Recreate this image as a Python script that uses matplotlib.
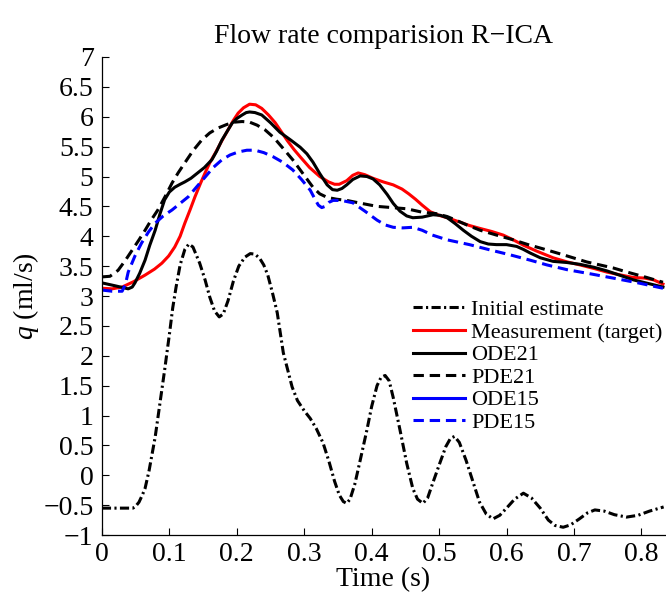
import matplotlib
matplotlib.use("Agg")
import matplotlib.pyplot as plt

# Initial estimate
t_init = [0, 0.046, 0.050, 0.055, 0.060, 0.064, 0.070, 0.079, 0.086, 0.093, 0.100, 0.105,
          0.110, 0.116, 0.123, 0.129, 0.135, 0.145, 0.153, 0.160, 0.167, 0.174, 0.180,
          0.187, 0.195, 0.203, 0.212, 0.220, 0.227, 0.234, 0.240, 0.246, 0.253, 0.260,
          0.269, 0.282, 0.290, 0.300, 0.309, 0.318, 0.328, 0.337, 0.345, 0.352, 0.358,
          0.363, 0.368, 0.375, 0.383, 0.393, 0.400, 0.408, 0.414, 0.420, 0.426, 0.432,
          0.442, 0.452, 0.461, 0.468, 0.476, 0.483, 0.490, 0.501, 0.510, 0.517, 0.523,
          0.530, 0.540, 0.550, 0.560, 0.570, 0.580, 0.590, 0.600, 0.612, 0.625, 0.637,
          0.650, 0.662, 0.672, 0.684, 0.695, 0.708, 0.720, 0.731, 0.745, 0.760, 0.778,
          0.795, 0.812, 0.833]
q_init = [-0.55, -0.55, -0.52, -0.45, -0.33, -0.22, 0.08, 0.64, 1.20, 1.76, 2.35, 2.80,
          3.15, 3.52, 3.78, 3.87, 3.82, 3.55, 3.27, 2.98, 2.75, 2.65, 2.70,
          2.92, 3.25, 3.50, 3.65, 3.71, 3.70, 3.63, 3.52, 3.35, 3.05, 2.72,
          2.05, 1.48, 1.25, 1.08, 0.95, 0.78, 0.54, 0.22, -0.10, -0.33, -0.44,
          -0.47, -0.40, -0.15, 0.25, 0.76, 1.15, 1.50, 1.64, 1.67, 1.58, 1.30,
          0.76, 0.20, -0.22, -0.40, -0.47, -0.38, -0.15, 0.20, 0.48, 0.62, 0.65,
          0.55, 0.25, -0.10, -0.45, -0.65, -0.73, -0.67, -0.55, -0.40, -0.30, -0.38,
          -0.55, -0.75, -0.84, -0.87, -0.83, -0.73, -0.63, -0.58, -0.60, -0.66, -0.70,
          -0.67, -0.60, -0.53]

# Measurement (target)
t_meas = [0, 0.015, 0.030, 0.047, 0.064, 0.078, 0.089, 0.099, 0.108, 0.116, 0.123, 0.131,
          0.138, 0.146, 0.153, 0.160, 0.168, 0.178, 0.187, 0.195, 0.202, 0.210, 0.219,
          0.228, 0.237, 0.247, 0.257, 0.266, 0.275, 0.285, 0.294, 0.308, 0.323, 0.336,
          0.345, 0.352, 0.363, 0.372, 0.380, 0.390, 0.402, 0.417, 0.432, 0.445, 0.455,
          0.465, 0.475, 0.487, 0.500, 0.512, 0.530, 0.545, 0.561, 0.578, 0.595, 0.610,
          0.625, 0.645, 0.669, 0.690, 0.709, 0.730, 0.749, 0.770, 0.788, 0.805, 0.818, 0.832]
q_meas = [3.13, 3.12, 3.15, 3.24, 3.35, 3.45, 3.55, 3.67, 3.82, 4.00, 4.22, 4.45,
          4.66, 4.88, 5.06, 5.23, 5.39, 5.60, 5.78, 5.94, 6.06, 6.15, 6.21,
          6.20, 6.14, 6.03, 5.90, 5.75, 5.60, 5.45, 5.33, 5.15, 5.00, 4.91,
          4.87, 4.87, 4.93, 5.02, 5.06, 5.03, 4.97, 4.91, 4.86, 4.79, 4.71,
          4.62, 4.52, 4.41, 4.35, 4.31, 4.24, 4.18, 4.13, 4.08, 4.02, 3.94,
          3.85, 3.75, 3.64, 3.57, 3.52, 3.46, 3.40, 3.35, 3.31, 3.30, 3.27, 3.20]

# ODE21
t_ode21 = [0, 0.020, 0.039, 0.045, 0.049, 0.056, 0.064, 0.071, 0.079, 0.086, 0.093, 0.100,
           0.108, 0.116, 0.123, 0.132, 0.142, 0.152, 0.163, 0.170, 0.178, 0.186, 0.193,
           0.200, 0.208, 0.214, 0.219, 0.227, 0.237, 0.250, 0.264, 0.280, 0.294, 0.304,
           0.313, 0.323, 0.334, 0.342, 0.349, 0.356, 0.363, 0.372, 0.383, 0.393, 0.402,
           0.412, 0.423, 0.432, 0.442, 0.452, 0.461, 0.475, 0.491, 0.502, 0.512, 0.524,
           0.536, 0.548, 0.561, 0.573, 0.585, 0.600, 0.615, 0.625, 0.635, 0.650, 0.669,
           0.690, 0.709, 0.730, 0.749, 0.770, 0.788, 0.810, 0.832]
q_ode21 = [3.22, 3.17, 3.12, 3.15, 3.22, 3.38, 3.60, 3.85, 4.10, 4.37, 4.61, 4.74,
           4.82, 4.87, 4.91, 4.97, 5.06, 5.15, 5.28, 5.42, 5.61, 5.76, 5.89,
           5.97, 6.03, 6.07, 6.08, 6.07, 6.03, 5.90, 5.74, 5.61, 5.49, 5.38,
           5.24, 5.05, 4.86, 4.78, 4.77, 4.80, 4.86, 4.95, 5.01, 5.00, 4.96,
           4.86, 4.70, 4.55, 4.42, 4.34, 4.31, 4.32, 4.36, 4.35, 4.31, 4.21,
           4.10, 4.00, 3.91, 3.87, 3.86, 3.86, 3.83, 3.78, 3.72, 3.64, 3.58,
           3.56, 3.53, 3.48, 3.42, 3.34, 3.27, 3.21, 3.15]

# PDE21
t_pde21 = [0, 0.012, 0.024, 0.035, 0.045, 0.055, 0.064, 0.073, 0.083, 0.094, 0.104, 0.113,
           0.123, 0.135, 0.148, 0.160, 0.172, 0.185, 0.197, 0.208, 0.219, 0.230, 0.242,
           0.255, 0.268, 0.283, 0.298, 0.313, 0.323, 0.334, 0.348, 0.363, 0.385, 0.408,
           0.430, 0.452, 0.476, 0.495, 0.512, 0.527, 0.541, 0.561, 0.585, 0.610, 0.632,
           0.654, 0.684, 0.719, 0.758, 0.779, 0.808, 0.832]
q_pde21 = [3.32, 3.33, 3.43, 3.60, 3.77, 3.94, 4.10, 4.27, 4.44, 4.67, 4.89, 5.06,
           5.23, 5.43, 5.61, 5.73, 5.81, 5.87, 5.91, 5.92, 5.91, 5.86, 5.78,
           5.65, 5.48, 5.28, 5.05, 4.82, 4.71, 4.65, 4.62, 4.60, 4.55, 4.50,
           4.48, 4.46, 4.40, 4.38, 4.33, 4.26, 4.19, 4.10, 4.02, 3.94, 3.86,
           3.79, 3.69, 3.57, 3.47, 3.40, 3.31, 3.23]

# ODE15 (not visible in the chart)
t_ode15 = []
q_ode15 = []

# PDE15
t_pde15 = [0, 0.015, 0.030, 0.035, 0.039, 0.049, 0.059, 0.069, 0.079, 0.091, 0.104, 0.116,
           0.128, 0.140, 0.153, 0.165, 0.178, 0.190, 0.202, 0.215, 0.227, 0.240, 0.254,
           0.268, 0.283, 0.296, 0.309, 0.316, 0.321, 0.326, 0.331, 0.337, 0.343, 0.355,
           0.372, 0.390, 0.408, 0.420, 0.432, 0.446, 0.461, 0.475, 0.490, 0.512, 0.545,
           0.576, 0.605, 0.635, 0.660, 0.690, 0.725, 0.758, 0.795, 0.832]
q_pde15 = [3.10, 3.08, 3.08, 3.20, 3.40, 3.67, 3.89, 4.07, 4.22, 4.34, 4.44, 4.55,
           4.66, 4.82, 4.99, 5.15, 5.28, 5.36, 5.41, 5.44, 5.44, 5.40, 5.33,
           5.24, 5.11, 4.95, 4.77, 4.62, 4.52, 4.48, 4.50, 4.57, 4.60, 4.60,
           4.56, 4.42, 4.27, 4.19, 4.15, 4.14, 4.15, 4.10, 4.02, 3.94, 3.86,
           3.77, 3.69, 3.60, 3.52, 3.44, 3.37, 3.30, 3.22, 3.13]

x_ticks = [0, 0.1, 0.2, 0.3, 0.4, 0.5, 0.6, 0.7, 0.8]
y_ticks = [-1, -0.5, 0, 0.5, 1, 1.5, 2, 2.5, 3, 3.5, 4, 4.5, 5, 5.5, 6, 6.5, 7]

plt.rcParams['font.family'] = ['Liberation Serif', 'DejaVu Serif']
plt.rcParams['mathtext.fontset'] = 'custom'
plt.rcParams['mathtext.it'] = 'Liberation Serif:italic'
plt.rcParams['mathtext.rm'] = 'Liberation Serif'

fig = plt.figure(figsize=(6.66, 6.0), dpi=100)
ax = fig.add_axes([0.153, 0.1083, 0.8455, 0.7967])

lw = 2.2
common = dict(lw=lw, solid_joinstyle='round', dash_joinstyle='round')
ax.plot(t_init, q_init, color='black', dashes=(3.0, 1.1, 0.7, 1.1), label='Initial estimate', **common)
ax.plot(t_meas, q_meas, color='red', label='Measurement (target)', **common)
ax.plot(t_ode21, q_ode21, color='black', label='ODE21', **common)
ax.plot(t_pde21, q_pde21, color='black', dashes=(3.4, 1.9), label='PDE21', **common)
ax.plot(t_ode15, q_ode15, color='blue', label='ODE15', **common)
ax.plot(t_pde15, q_pde15, color='blue', dashes=(3.4, 1.9), label='PDE15', **common)

ax.set_xlim(0, 0.835)
ax.set_ylim(-1, 7)
ax.set_xticks(x_ticks)
ax.set_xticklabels([f'{v:g}' for v in x_ticks])
ax.set_yticks(y_ticks)
ax.set_yticklabels([f'{v:g}'.replace('-', '\u2212') for v in y_ticks])
ax.tick_params(direction='in', length=5, width=0.8, labelsize=20)
ax.tick_params(axis='x', pad=5)
ax.tick_params(axis='y', pad=6)
for s in ['top', 'right']:
    ax.spines[s].set_visible(False)
for s in ['left', 'bottom']:
    ax.spines[s].set_linewidth(0.9)

ax.set_title('Flow rate comparision R\u2212ICA', fontsize=20, pad=10)
ax.set_xlabel('Time (s)', fontsize=20, labelpad=0)
ax.set_ylabel('$q$ (ml/s)', fontsize=20, labelpad=2)

ax.legend(loc='upper left', bbox_to_anchor=(0.536, 0.511), frameon=False, fontsize=16,
          handlelength=2.35, handletextpad=0.3, labelspacing=0.09, borderaxespad=0)

fig.savefig('out.png', dpi=100)
